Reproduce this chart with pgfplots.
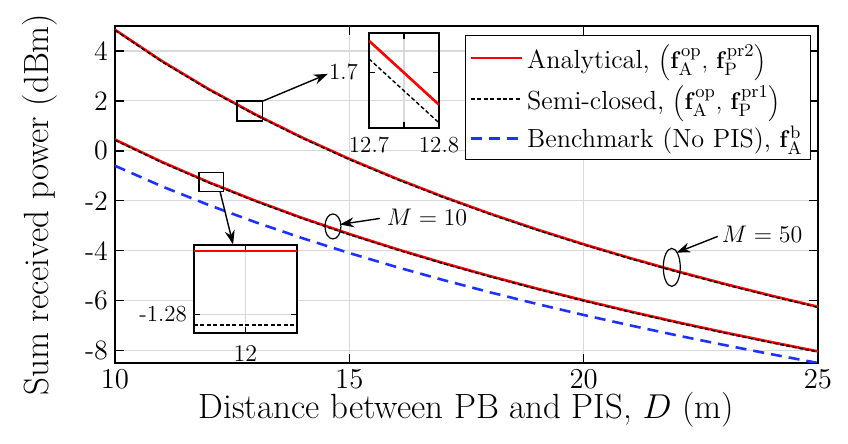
\documentclass[border=0pt]{standalone}
\usepackage{pgfplots}
\pgfplotsset{compat=1.18}
\usetikzlibrary{arrows.meta}
\definecolor{anared}{RGB}{255,0,0}
\definecolor{benchblue}{RGB}{30,50,255}

\pgfplotsset{
  ana/.style={color=anared, line width=1.3pt},
  semi/.style={color=black, line width=0.7pt, dash pattern=on 2pt off 1.2pt},
  bench/.style={color=benchblue, line width=1.3pt, dash pattern=on 5.5pt off 3.5pt},
}

% D, analytical, semi-closed (M = 50)
\pgfplotstableread{
D    ana     semi
10   4.850   4.822
11   3.596   3.568
12   2.472   2.444
13   1.454   1.426
14   0.527   0.499
15  -0.324  -0.352
16  -1.109  -1.137
17  -1.837  -1.865
18  -2.515  -2.543
19  -3.148  -3.176
20  -3.742  -3.770
21  -4.300  -4.328
22  -4.828  -4.856
23  -5.326  -5.354
24  -5.799  -5.827
25  -6.248  -6.276
}\mfifty

% D, analytical, semi-closed (M = 10), benchmark
\pgfplotstableread{
D    ana     semi    bench
10   0.450   0.422  -0.600
11  -0.443  -0.471  -1.422
12  -1.256  -1.284  -2.172
13  -2.002  -2.030  -2.862
14  -2.692  -2.720  -3.501
15  -3.332  -3.360  -4.095
16  -3.930  -3.958  -4.652
17  -4.491  -4.519  -5.174
18  -5.018  -5.046  -5.667
19  -5.516  -5.544  -6.133
20  -5.989  -6.017  -6.576
21  -6.438  -6.466  -6.996
22  -6.865  -6.893  -7.397
23  -7.272  -7.300  -7.780
24  -7.661  -7.689  -8.147
25  -8.034  -8.062  -8.499
}\mten

\begin{document}
\begin{tikzpicture}
\useasboundingbox (-57.5pt,-40.5pt) rectangle (366.5pt,181.5pt);
\begin{axis}[
  at={(0pt,0pt)}, anchor=south west,
  scale only axis, width=351.5pt, height=168.5pt,
  xmin=10, xmax=25, ymin=-8.5, ymax=5,
  xtick={10,15,20,25}, ytick={-8,-6,...,4},
  tick align=inside, major tick length=4.5pt,
  grid=major, major grid style={black!15, line width=0.6pt},
  axis line style={line width=0.8pt},
  every tick/.style={black, line width=0.7pt},
  tick label style={font=\fontsize{14}{16}\selectfont},
  yticklabel style={/pgf/number format/assume math mode=true},
  label style={font=\fontsize{17.5}{20}\selectfont},
  xlabel={Distance between PB and PIS, $D$ (m)},
  ylabel={Sum received power (dBm)},
  xlabel style={at={(axis description cs:0.5,-0.14)}, anchor=center},
  ylabel style={at={(axis description cs:-0.1067,0.47)}, anchor=center},
  legend style={at={(1,1)}, anchor=north east, xshift=-3.5pt, yshift=-4.5pt,
    font=\fontsize{13.1}{15.5}\selectfont, draw=black, fill=white,
    inner xsep=2pt, inner ysep=2.5pt, row sep=3pt,
    cells={anchor=west, inner xsep=1pt},
    /tikz/every even column/.append style={column sep=0pt}},
  legend image code/.code={\draw[#1] (0pt,0pt) -- (25.5pt,0pt);},
]
\addplot[ana]   table[x=D, y=ana]   {\mfifty};
\addplot[semi]  table[x=D, y=semi]  {\mfifty};
\addplot[bench] table[x=D, y=bench] {\mten};
\addplot[ana, forget plot]  table[x=D, y=ana]  {\mten};
\addplot[semi, forget plot] table[x=D, y=semi] {\mten};
\legend{{Analytical, $\left(\mathbf{f}_{\mathrm{A}}^{\mathrm{op}},\,\mathbf{f}_{\mathrm{P}}^{\mathrm{pr2}}\right)$},
        {Semi-closed, $\left(\mathbf{f}_{\mathrm{A}}^{\mathrm{op}},\,\mathbf{f}_{\mathrm{P}}^{\mathrm{pr1}}\right)$},
        {Benchmark (No PIS), $\mathbf{f}_{\mathrm{A}}^{\mathrm{b}}$}}

% zoom boxes, ellipses and arrows
\draw[line width=0.7pt] (axis cs:12.6,1.19) rectangle (axis cs:13.15,1.99);
\draw[line width=0.7pt, -{Stealth[length=7pt,width=5pt]}] (axis cs:13.15,1.99) -- (axis cs:14.54,3.08);
\draw[line width=0.7pt] (axis cs:11.79,-1.62) rectangle (axis cs:12.32,-0.86);
\draw[line width=0.7pt, -{Stealth[length=7pt,width=5pt]}] (axis cs:12.24,-1.62) -- (axis cs:12.52,-3.75);
\draw[line width=0.6pt] (axis cs:14.65,-3.03) ellipse [x radius=4pt, y radius=6.25pt];
\draw[line width=0.7pt, -{Stealth[length=7pt,width=5pt]}] (axis cs:15.65,-2.71) -- (axis cs:14.80,-2.95);
\node[anchor=west, inner sep=1pt, font=\fontsize{13.2}{15}\selectfont] at (axis cs:15.75,-2.67) {$M=10$};
\draw[line width=0.6pt] (axis cs:21.88,-4.67) ellipse [x radius=4.25pt, y radius=9.5pt];
\draw[line width=0.7pt, -{Stealth[length=7pt,width=5pt]}] (axis cs:22.86,-3.43) -- (axis cs:21.98,-4.08);
\node[anchor=west, inner sep=1pt, font=\fontsize{13.2}{15}\selectfont] at (axis cs:22.9,-3.35) {$M=50$};
\end{axis}

% inset, M = 50
\begin{axis}[
  at={(127pt,117.5pt)}, anchor=south west,
  scale only axis, width=35pt, height=47.5pt,
  xmin=12.7, xmax=12.8, ymin=1.614, ymax=1.761,
  xtick={12.7,12.75,12.8}, xticklabels={12.7,,12.8},
  ytick={1.7}, yticklabels={1.7},
  xmajorgrids, major grid style={black!15, line width=0.6pt},
  tick align=inside, major tick length=3pt,
  axis line style={line width=0.8pt},
  every tick/.style={black, line width=0.7pt},
  tick label style={font=\fontsize{11.5}{13}\selectfont},
  yticklabel style={xshift=-2pt},
  xticklabel style={yshift=-1pt},
]
\addplot[ana]  coordinates {(12.7,1.749) (12.8,1.650)};
\addplot[semi] coordinates {(12.7,1.721) (12.8,1.622)};
\end{axis}

% inset, M = 10
\begin{axis}[
  at={(39.5pt,15pt)}, anchor=south west,
  scale only axis, width=51.5pt, height=44pt,
  xmin=11.99, xmax=12.01, ymin=-1.2870, ymax=-1.2537,
  xtick={12}, ytick={-1.28},
  grid=major, major grid style={black!15, line width=0.6pt},
  axis background/.style={fill=white},
  tick align=inside, major tick length=3pt,
  axis line style={line width=0.8pt},
  every tick/.style={black, line width=0.7pt},
  tick label style={font=\fontsize{11.5}{13}\selectfont},
  yticklabel style={/pgf/number format/assume math mode=true},
  xticklabel style={yshift=-3pt},
]
\addplot[ana]  coordinates {(11.99,-1.256) (12.01,-1.256)};
\addplot[semi] coordinates {(11.99,-1.284) (12.01,-1.284)};
\end{axis}
\end{tikzpicture}
\end{document}
